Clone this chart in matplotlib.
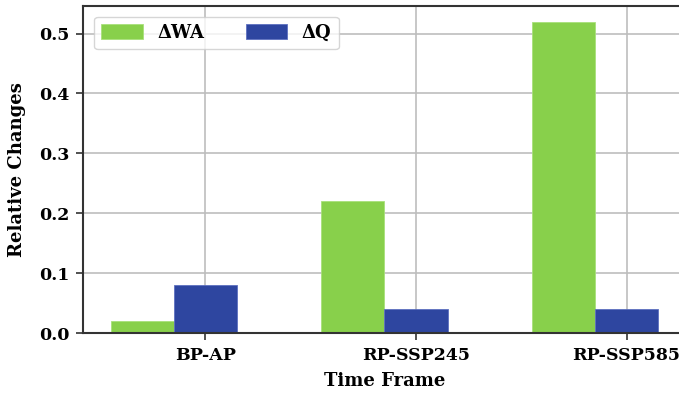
import matplotlib
matplotlib.use("Agg")
import matplotlib.pyplot as plt
import numpy as np

categories = ["BP-AP", "RP-SSP245", "RP-SSP585"]
delta_wa = [0.02, 0.22, 0.52]
delta_q = [0.08, 0.04, 0.04]
series_labels = ["ΔWA", "ΔQ"]

plt.rcParams['font.family'] = ['DejaVu Serif']
plt.rcParams['font.weight'] = 'bold'

fig = plt.figure(figsize=(6.79, 3.96), dpi=100)
ax = fig.add_axes([83.3/679, 63/396, (685.5-83.3)/679, 327/396])

x = np.arange(len(categories))
w = 0.3
ax.bar(x - w, delta_wa, w, color='#88d04b', label=series_labels[0], edgecolor='#a8e07b', linewidth=0.6)
ax.bar(x, delta_q, w, color='#2e46a0', label=series_labels[1], edgecolor='#5d70c0', linewidth=0.6)

ax.set_axisbelow(True)
ax.grid(True, color='#bdbdbd', linewidth=1.2)
ax.set_xticks(x)
ax.set_xticklabels(categories)
ax.tick_params(labelsize=12.5, width=1.2, length=5, color='#333333', pad=5)
for lbl in ax.get_xticklabels() + ax.get_yticklabels():
    lbl.set_fontweight('bold')
ax.set_yticks([0.0, 0.1, 0.2, 0.3, 0.4, 0.5])
ax.set_xlabel("Time Frame", fontsize=13, fontweight='bold', labelpad=6)
ax.set_ylabel("Relative Changes", fontsize=13, fontweight='bold', labelpad=9)
for s in ax.spines.values():
    s.set_linewidth(1.5)
    s.set_color('#333333')
ax.legend(loc='upper left', ncol=2, fontsize=13, frameon=True, framealpha=0.8,
          edgecolor='#cccccc', handlelength=2.3, handleheight=0.9, columnspacing=2.3,
          handletextpad=0.8, borderaxespad=0.6)

fig.savefig("out.png", dpi=100)
